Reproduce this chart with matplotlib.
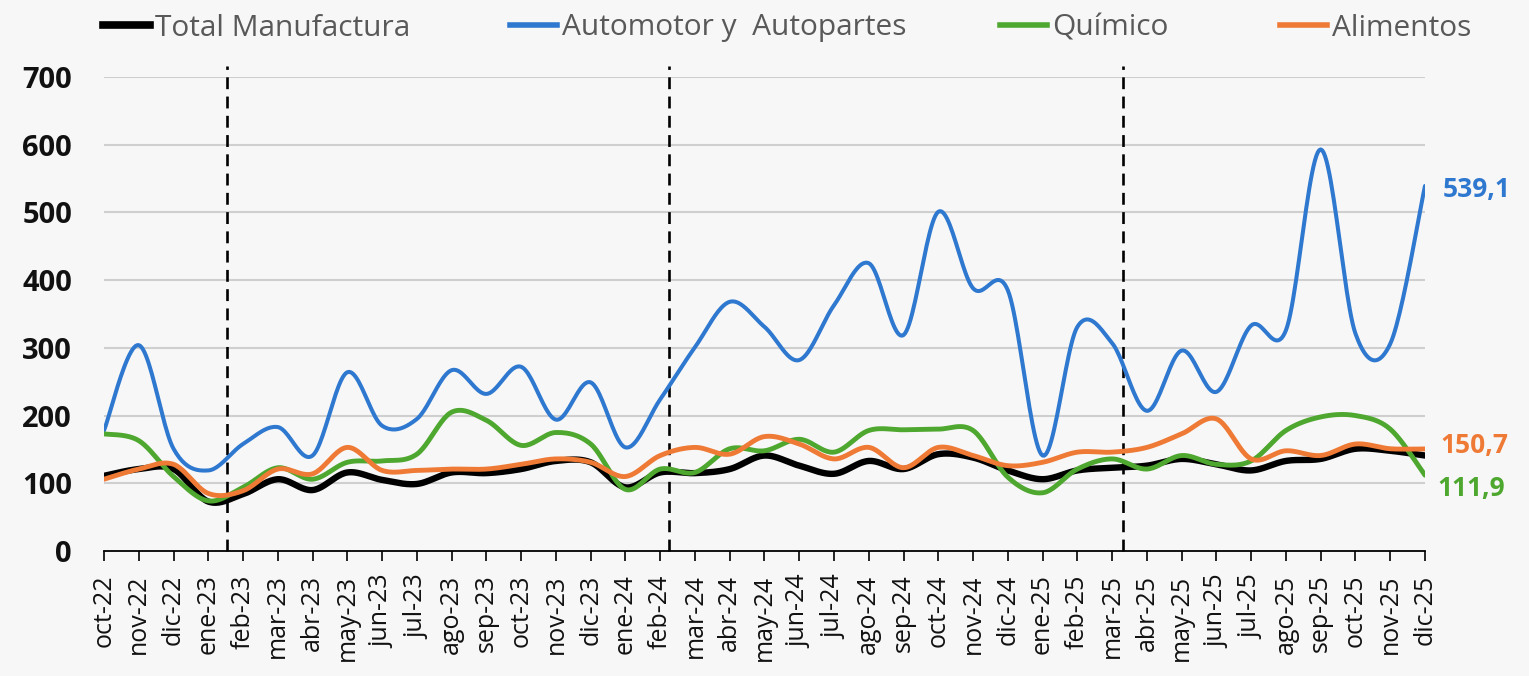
import matplotlib.pyplot as plt
import numpy as np
from matplotlib.lines import Line2D

plt.rcParams['font.family'] = ['Open Sans', 'DejaVu Sans']

meses = ["oct-22", "nov-22", "dic-22",
         "ene-23", "feb-23", "mar-23", "abr-23", "may-23", "jun-23",
         "jul-23", "ago-23", "sep-23", "oct-23", "nov-23", "dic-23",
         "ene-24", "feb-24", "mar-24", "abr-24", "may-24", "jun-24",
         "jul-24", "ago-24", "sep-24", "oct-24", "nov-24", "dic-24",
         "ene-25", "feb-25", "mar-25", "abr-25", "may-25", "jun-25",
         "jul-25", "ago-25", "sep-25", "oct-25", "nov-25", "dic-25"]

total = [111, 121, 121, 73, 84, 106, 90, 116, 105, 99, 116, 115, 121,
         133, 131, 94, 116, 115, 121, 141, 126, 114, 133, 121, 143, 138,
         119, 106, 119, 123, 126, 136, 128, 119, 133, 136, 151, 148, 141]
automotor = [178, 304, 151, 119, 158, 183, 141, 264, 185, 195, 267, 232,
             272, 194, 249, 153, 224, 301, 368, 331, 282, 363, 425, 319,
             501, 388, 385, 141, 331, 307, 207, 296, 235, 333, 326, 593,
             321, 306, 539.1]
quimico = [173, 163, 110, 74, 94, 123, 106, 131, 133, 143, 205, 193, 156,
           175, 158, 91, 121, 116, 151, 148, 165, 146, 178, 179, 180, 178,
           109, 86, 121, 136, 121, 141, 128, 133, 178, 198, 200, 180, 111.9]
alimentos = [106, 121, 128, 85, 89, 121, 114, 153, 119, 119, 121, 121, 128,
             136, 131, 110, 141, 153, 143, 169, 158, 136, 153, 123, 153, 141,
             126, 131, 146, 146, 153, 173, 195, 136, 148, 141, 158, 151, 150.7]

nombres = ['Total Manufactura', 'Automotor y  Autopartes', 'Químico', 'Alimentos']
cortes = [3.53, 16.24, 29.32]

azul = '#2E78D0'
verde = '#4EA72E'
naranja = '#EE7A35'


def suavizar(y, n=24):
    # curva suavizada tipo excel (bezier entre puntos)
    y = np.asarray(y, float)
    p = np.column_stack([np.arange(len(y), dtype=float), y])
    pp = np.vstack([p[0], p, p[-1]])
    t = np.linspace(0, 1, n, endpoint=False)[:, None]
    trozos = []
    for i in range(len(p) - 1):
        p0, p3 = p[i], p[i + 1]
        c1 = p0 + (pp[i + 2] - pp[i]) / 6
        c2 = p3 - (pp[i + 3] - pp[i + 1]) / 6
        trozos.append((1 - t) ** 3 * p0 + 3 * (1 - t) ** 2 * t * c1
                      + 3 * (1 - t) * t ** 2 * c2 + t ** 3 * p3)
    trozos.append(p[-1:])
    r = np.vstack(trozos)
    return r[:, 0], r[:, 1]


W, H = 1529, 676
fig = plt.figure(figsize=(W / 100, H / 100), dpi=100, facecolor='#f7f7f7')
ax = fig.add_axes([104 / W, 1 - 551 / H, 1321 / W, 474 / H])
ax.set_facecolor('none')

for v in range(100, 701, 100):
    ax.axhline(v, color='#cfcfcf', lw=1.5, zorder=0)

for c in cortes:
    ax.plot([c, c], [0, 716], color='black', lw=1.9, ls=(0, (4.5, 2.8)),
            clip_on=False, zorder=1)

ax.plot(*suavizar(total), color='black', lw=4.6, zorder=3, solid_capstyle='round')
ax.plot(*suavizar(automotor), color=azul, lw=2.9, zorder=3, solid_capstyle='round')
ax.plot(*suavizar(quimico), color=verde, lw=3.5, zorder=3, solid_capstyle='round')
ax.plot(*suavizar(alimentos), color=naranja, lw=3.5, zorder=3, solid_capstyle='round')

ax.set_xlim(0, len(meses) - 1)
ax.set_ylim(0, 700)
ax.set_xticks(range(len(meses)))
ax.set_xticklabels(meses, rotation=90, fontsize=18, color='#111111')
ax.set_yticks(range(0, 701, 100))
ax.set_yticklabels([str(v) for v in range(0, 701, 100)], fontsize=21,
                   fontweight='bold', color='#111111')
ax.tick_params(axis='y', length=0, pad=23)
ax.tick_params(axis='x', direction='out', length=7, width=1.2, pad=10)
for s in ['left', 'right', 'top']:
    ax.spines[s].set_visible(False)
ax.spines['bottom'].set_linewidth(1.3)

ax.annotate('539,1', xy=(38, automotor[-1]), xytext=(18, -4),
            textcoords='offset pixels', color=azul, fontsize=19,
            fontweight='bold', va='center', ha='left')
ax.annotate('150,7', xy=(38, alimentos[-1]), xytext=(15, 3),
            textcoords='offset pixels', color=naranja, fontsize=19,
            fontweight='bold', va='center', ha='left')
ax.annotate('111,9', xy=(38, quimico[-1]), xytext=(12, -13),
            textcoords='offset pixels', color=verde, fontsize=19,
            fontweight='bold', va='center', ha='left')

# leyenda a mano arriba
colores = ['black', azul, verde, naranja]
grosores = [5.5, 4, 4, 4]
inicios = [103, 510, 1000, 1280]
ly = 1 - 25 / H
for nom, col, g, x0 in zip(nombres, colores, grosores, inicios):
    fig.add_artist(Line2D([x0 / W, (x0 + 47) / W], [ly, ly], color=col, lw=g,
                          transform=fig.transFigure))
    fig.text((x0 + 52) / W, 1 - 28 / H, nom, fontsize=21.5, color='#595959',
             va='center', ha='left')

fig.savefig('out.png', dpi=100, facecolor=fig.get_facecolor())
